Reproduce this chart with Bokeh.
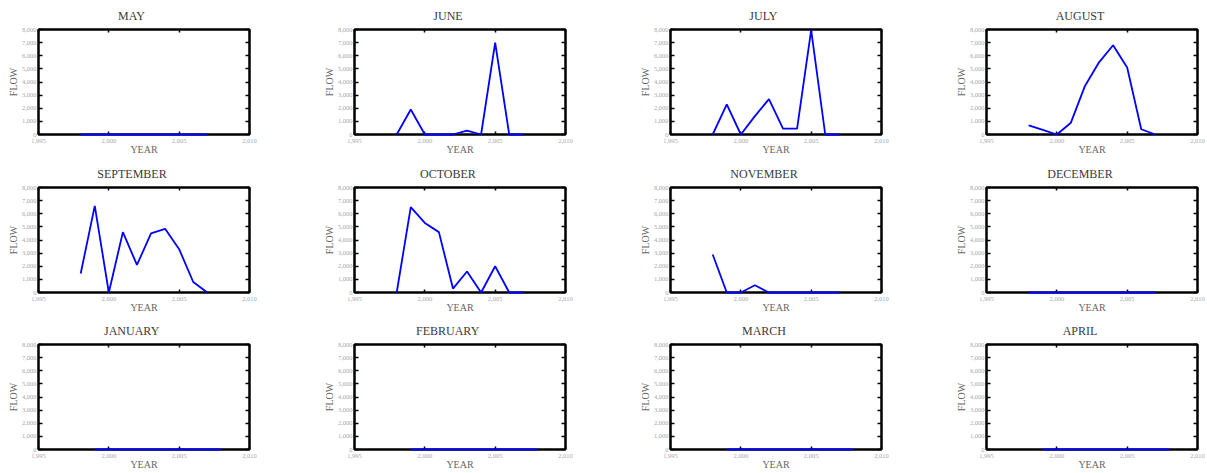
from bokeh.plotting import figure
from bokeh.layouts import gridplot
from bokeh.models import (Range1d, FixedTicker, NumeralTickFormatter, LinearAxis,
                          ColumnDataSource, CustomLabelingPolicy)
from bokeh.embed import file_html
from bokeh.resources import INLINE

# ---------------- data ----------------
months = ["MAY", "JUNE", "JULY", "AUGUST",
          "SEPTEMBER", "OCTOBER", "NOVEMBER", "DECEMBER",
          "JANUARY", "FEBRUARY", "MARCH", "APRIL"]

years_may_dec = [1998, 1999, 2000, 2001, 2002, 2003, 2004, 2005, 2006, 2007]
years_jan_apr = [1999, 2000, 2001, 2002, 2003, 2004, 2005, 2006, 2007, 2008]

flow_may = [0, 0, 0, 0, 0, 0, 0, 0, 0, 0]
flow_june = [0, 1900, 0, 0, 0, 300, 0, 7000, 0, 0]
flow_july = [0, 2300, 0, 1400, 2700, 450, 450, 7950, 0, 0]
flow_august = [700, 350, 0, 900, 3700, 5500, 6800, 5100, 400, 0]
flow_september = [1450, 6600, 0, 4600, 2100, 4500, 4850, 3300, 800, 0]
flow_october = [0, 6500, 5300, 4600, 300, 1600, 0, 2000, 0, 0]
flow_november = [2900, 0, 0, 550, 0, 0, 0, 0, 0, 0]
flow_december = [0, 0, 0, 0, 0, 0, 0, 0, 0, 0]
flow_january = [0, 0, 0, 0, 0, 0, 0, 0, 0, 0]
flow_february = [0, 0, 0, 0, 0, 0, 0, 0, 0, 0]
flow_march = [0, 0, 0, 0, 0, 0, 0, 0, 0, 0]
flow_april = [0, 0, 0, 0, 0, 0, 0, 0, 0, 0]

x_ticks = [1995, 2000, 2005, 2010]
y_ticks = [0, 1000, 2000, 3000, 4000, 5000, 6000, 7000, 8000]

series = [
    (years_may_dec, flow_may), (years_may_dec, flow_june),
    (years_may_dec, flow_july), (years_may_dec, flow_august),
    (years_may_dec, flow_september), (years_may_dec, flow_october),
    (years_may_dec, flow_november), (years_may_dec, flow_december),
    (years_jan_apr, flow_january), (years_jan_apr, flow_february),
    (years_jan_apr, flow_march), (years_jan_apr, flow_april),
]

# ---------------- layout / style ----------------
FONT = "Liberation Serif"
TITLE_PX = 12
# Times/Liberation Serif uppercase advance widths (per 1000 em), used to
# shift each title so that it sits a little left of the frame centre
CHAR_W = {"A": 722, "B": 667, "C": 667, "D": 722, "E": 611, "F": 556, "G": 722,
          "H": 722, "I": 333, "J": 389, "K": 722, "L": 611, "M": 889, "N": 722,
          "O": 722, "P": 556, "Q": 722, "R": 667, "S": 556, "T": 611, "U": 722,
          "V": 722, "W": 944, "X": 722, "Y": 722, "Z": 611}

FRAME_W = 211
FRAME_H = 105
BORDER_LEFT = 38
col_right = [67, 67, 67, 8]
row_top = [29, 29, 29]
row_bottom = [24, 23, 23]

hide_labels = CustomLabelingPolicy(code="""
for (const i of indices) indices.unset(i)
return indices
""")

figs = []
for i, (month, (yrs, vals)) in enumerate(zip(months, series)):
    r, c = divmod(i, 4)
    p = figure(frame_width=FRAME_W, frame_height=FRAME_H,
               x_range=Range1d(x_ticks[0], x_ticks[-1]),
               y_range=Range1d(y_ticks[0], y_ticks[-1]),
               output_backend="svg", toolbar_location=None,
               min_border_left=BORDER_LEFT, min_border_right=col_right[c],
               min_border_top=row_top[r], min_border_bottom=row_bottom[r])
    p.background_fill_color = "white"
    p.border_fill_color = "white"
    p.outline_line_color = "black"
    p.outline_line_width = 2
    p.xgrid.visible = False
    p.ygrid.visible = False

    # title, shifted slightly left of the frame centre as in the reference
    tw = TITLE_PX * sum(CHAR_W.get(ch, 600) for ch in month) / 1000.0
    p.title.text = month
    p.title.align = "left"
    p.title.offset = FRAME_W / 2 - 12 - tw / 2
    p.title.text_font = FONT
    p.title.text_font_size = f"{TITLE_PX}px"
    p.title.text_font_style = "normal"
    p.title.text_color = "#3a3a3a"
    p.title.standoff = 13

    # bottom axis
    xa = p.xaxis[0]
    xa.ticker = FixedTicker(ticks=x_ticks)
    xa.formatter = NumeralTickFormatter(format="0,0")
    xa.axis_label = "YEAR"
    # left axis
    ya = p.yaxis[0]
    ya.ticker = FixedTicker(ticks=y_ticks)
    ya.formatter = NumeralTickFormatter(format="0,0")
    ya.axis_label = "FLOW"

    top = LinearAxis(ticker=FixedTicker(ticks=x_ticks),
                     major_label_policy=hide_labels,
                     major_label_text_font_size="0px", major_label_standoff=0)
    right = LinearAxis(ticker=FixedTicker(ticks=y_ticks),
                       major_label_policy=hide_labels,
                       major_label_text_font_size="0px", major_label_standoff=0)
    p.add_layout(top, "above")
    p.add_layout(right, "right")

    for ax in (xa, ya, top, right):
        ax.axis_line_color = "black"
        ax.axis_line_width = 2
        ax.major_tick_line_color = "black"
        ax.major_tick_line_width = 1.5
        ax.major_tick_in = 4
        ax.major_tick_out = 0
        ax.minor_tick_line_color = None
    for ax in (xa, ya):
        ax.major_label_text_font = FONT
        ax.major_label_text_font_size = "6.5px"
        ax.major_label_text_color = "#a8a8a8"
        ax.axis_label_text_font = FONT
        ax.axis_label_text_font_size = "10px"
        ax.axis_label_text_font_style = "normal"
        ax.axis_label_text_color = "#666666"
    xa.major_label_standoff = 4
    xa.axis_label_standoff = -2
    ya.major_label_standoff = 2
    ya.axis_label_standoff = 0
    top.major_tick_in = 3
    xa.major_tick_in = 3

    src = ColumnDataSource(data=dict(year=yrs, flow=vals))
    p.line("year", "flow", source=src, line_color="#0000ff",
           line_width=1.8, level="overlay")
    figs.append(p)

grid = gridplot(figs, ncols=4, toolbar_location=None)

open("out.html", "w").write(file_html(grid, INLINE))
